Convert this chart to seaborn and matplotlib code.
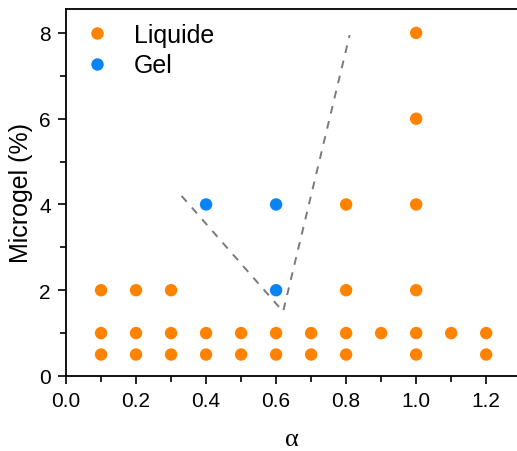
import numpy as np
import pandas as pd
import matplotlib
matplotlib.use("Agg")
import matplotlib.pyplot as plt
import seaborn as sns
from matplotlib.ticker import MultipleLocator, FormatStrFormatter

sns.set_style("ticks")
plt.rcParams['font.family'] = ['Liberation Sans', 'DejaVu Sans']
plt.rcParams['text.color'] = 'black'
plt.rcParams['axes.labelcolor'] = 'black'
plt.rcParams['xtick.color'] = 'black'
plt.rcParams['ytick.color'] = 'black'

# points
liq_alpha = [0.1, 0.1, 0.1, 0.2, 0.2, 0.2, 0.3, 0.3, 0.3, 0.4, 0.4, 0.5, 0.5,
             0.6, 0.6, 0.7, 0.7, 0.8, 0.8, 0.8, 0.8, 0.9,
             1.0, 1.0, 1.0, 1.0, 1.0, 1.0, 1.1, 1.2, 1.2]
liq_micro = [0.5, 1, 2, 0.5, 1, 2, 0.5, 1, 2, 0.5, 1, 0.5, 1,
             0.5, 1, 0.5, 1, 0.5, 1, 2, 4, 1,
             0.5, 1, 2, 4, 6, 8, 1, 0.5, 1]
gel_alpha = [0.4, 0.6, 0.6]
gel_micro = [4, 4, 2]

# boundary guide (dashed)
border_alpha = [0.33, 0.62, 0.81]
border_micro = [4.2, 1.5, 7.95]

df = pd.DataFrame({
    'alpha': liq_alpha + gel_alpha,
    'microgel': liq_micro + gel_micro,
    'etat': ['Liquide'] * len(liq_alpha) + ['Gel'] * len(gel_alpha),
})

fig = plt.figure(figsize=(5.17, 4.52), dpi=100)
ax = fig.add_axes([0.1277, 0.166, 0.873, 0.812])

ax.plot(border_alpha, border_micro, ls=(0, (4, 4)), color='#7a7a7a', lw=1.4, zorder=1)
sns.scatterplot(data=df, x='alpha', y='microgel', hue='etat',
                palette={'Liquide': '#FF8200', 'Gel': '#0A84F5'},
                s=80, linewidth=0, ax=ax, zorder=2)

ax.set_xlim(0, 1.289)
ax.set_ylim(0, 8.56)
ax.xaxis.set_major_locator(MultipleLocator(0.2))
ax.xaxis.set_minor_locator(MultipleLocator(0.1))
ax.yaxis.set_major_locator(MultipleLocator(2))
ax.yaxis.set_minor_locator(MultipleLocator(1))
ax.tick_params(which='major', length=6, width=1.2, labelsize=15, direction='out', pad=5)
ax.tick_params(which='minor', length=4, width=1.2, direction='out')
ax.xaxis.set_major_formatter(FormatStrFormatter('%.1f'))
ax.spines['right'].set_visible(False)
for sp in ['left', 'bottom', 'top']:
    ax.spines[sp].set_linewidth(1.3)
    ax.spines[sp].set_color('black')

ax.set_xlabel('α', fontsize=19, family=['Liberation Serif', 'DejaVu Serif'], labelpad=13)
ax.set_ylabel('Microgel (%)', fontsize=18, labelpad=4)

ax.legend(title=None, frameon=False, loc='upper left', fontsize=18,
          markerscale=1.0, handletextpad=0.45, borderaxespad=0.0, borderpad=0.4,
          bbox_to_anchor=(-0.008, 0.99), labelspacing=0.27)

fig.savefig('out.png', dpi=100)
